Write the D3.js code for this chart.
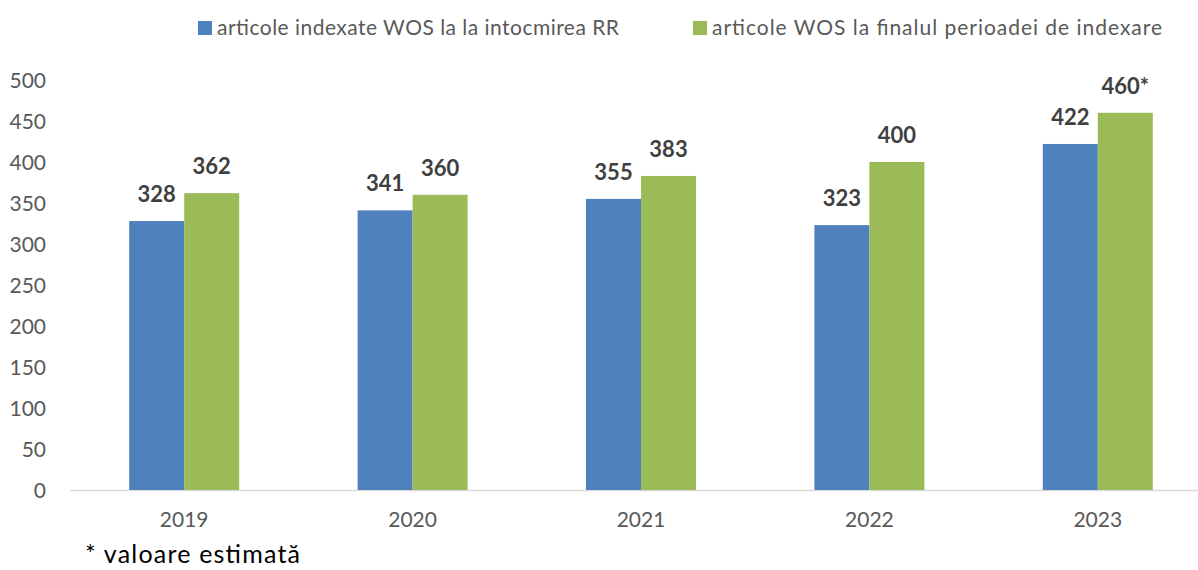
<!DOCTYPE html>
<html><head><meta charset="utf-8">
<script src="https://cdn.jsdelivr.net/npm/d3@7"></script>
<style>body{margin:0;background:#fff}svg{display:block}</style>
</head><body>
<svg id="c" width="1198" height="570"></svg>
<script>
const years = ["2019","2020","2021","2022","2023"];
const seriesNames = ["articole indexate WOS la la intocmirea RR","articole WOS la finalul perioadei de indexare"];
const indexate = [328,341,355,323,422];
const finale = [362,360,383,400,460];
const finaleLabels = ["362","360","383","400","460*"];
const yTicks = [0,50,100,150,200,250,300,350,400,450,500];
const colors = ["#4f81bd","#9bbb59"];
const font = "Lato, 'Open Sans', sans-serif";

const svg = d3.select("#c");
const x = d3.scaleBand().domain(years).range([70,1212]).padding(0);
const y = d3.scaleLinear().domain([0,500]).range([490,80]);
const bw = 55;

// y axis labels
svg.append("g").selectAll("text").data(yTicks).join("text")
  .attr("x",46).attr("y",d=>y(d)).attr("dy","0.36em")
  .attr("text-anchor","end").attr("font-family",font).attr("font-size",21)
  .attr("fill","#595959").text(d=>d);

// axis line
svg.append("line").attr("x1",70).attr("x2",1212).attr("y1",y(0)+0.5).attr("y2",y(0)+0.5)
  .attr("stroke","#d9d9d9").attr("stroke-width",1.5);

const data = [indexate, finale];
data.forEach((vals,si)=>{
  svg.append("g").selectAll("rect").data(vals).join("rect")
    .attr("x",(d,i)=>x(years[i])+x.bandwidth()/2 - bw + si*bw)
    .attr("width",bw)
    .attr("y",d=>y(d)).attr("height",d=>y(0)-y(d))
    .attr("fill",colors[si]);
});
// value labels
const labels = [indexate.map(String), finaleLabels];
data.forEach((vals,si)=>{
  svg.append("g").selectAll("text").data(vals).join("text")
    .attr("x",(d,i)=>x(years[i])+x.bandwidth()/2 - bw/2 + si*bw)
    .attr("y",d=>y(d)-19)
    .attr("text-anchor","middle").attr("font-family",font).attr("font-weight","bold")
    .attr("font-size",22).attr("fill","#404040")
    .text((d,i)=>labels[si][i]);
});

// x labels
svg.append("g").selectAll("text").data(years).join("text")
  .attr("x",d=>x(d)+x.bandwidth()/2).attr("y",527)
  .attr("text-anchor","middle").attr("font-family",font).attr("font-size",21)
  .attr("fill","#595959").text(d=>d);

// legend
const legX = [198,693];
const legW = [402,450];
seriesNames.forEach((n,i)=>{
  svg.append("rect").attr("x",legX[i]).attr("y",21).attr("width",14).attr("height",14).attr("fill",colors[i]);
  svg.append("text").attr("x",legX[i]+19).attr("y",35).attr("font-family",font).attr("font-size",21)
    .attr("textLength",legW[i]).attr("lengthAdjust","spacing")
    .attr("fill","#595959").text(n);
});

// footnote
svg.append("text").attr("x",85).attr("y",563).attr("font-family",font).attr("font-size",25)
  .attr("textLength",215).attr("lengthAdjust","spacing")
  .attr("fill","#000").text("* valoare estimată");
</script>
</body></html>
